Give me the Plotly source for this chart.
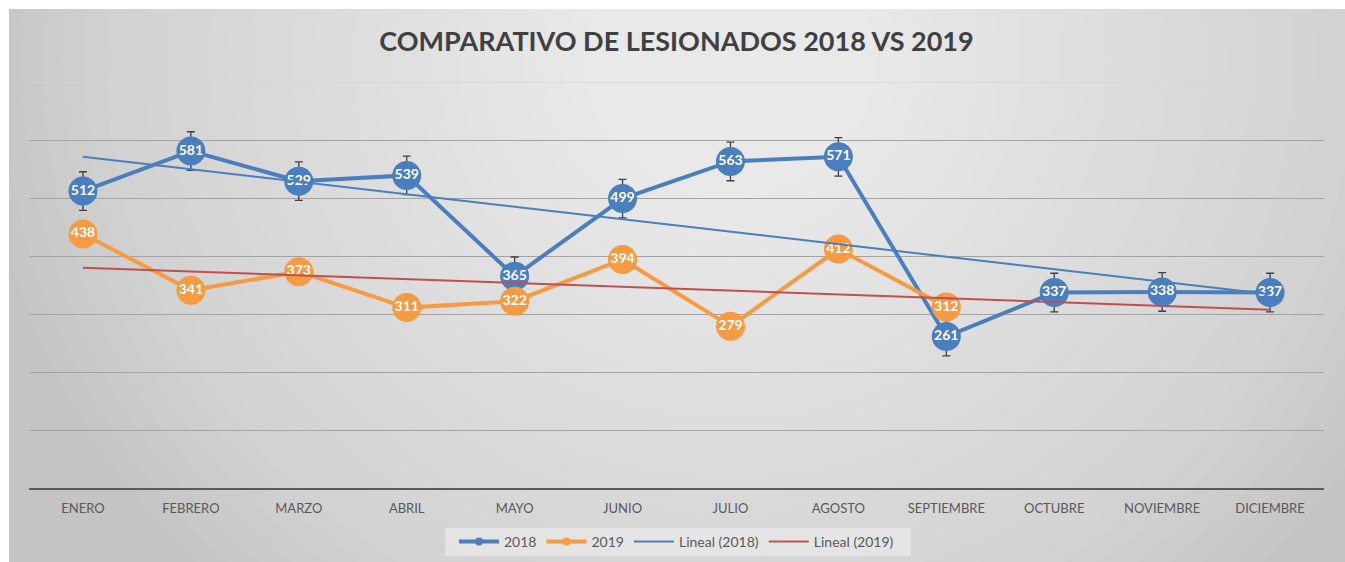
import numpy as np
import plotly.graph_objects as go

# Monthly injured counts
meses = ["ENERO", "FEBRERO", "MARZO", "ABRIL", "MAYO", "JUNIO", "JULIO",
         "AGOSTO", "SEPTIEMBRE", "OCTUBRE", "NOVIEMBRE", "DICIEMBRE"]
lesionados_2018 = [512, 581, 529, 539, 365, 499, 563, 571, 261, 337, 338, 337]
lesionados_2019 = [438, 341, 373, 311, 322, 394, 279, 412, 312, None, None, None]

AZUL = "#4a7ebf"
NARANJA = "#f79a42"
ROJO = "#c0504d"
FONT = "Lato"

W, H = 1345, 562
L, R, T, B = 29, 21, 82, 74          # plot-area margins in pixels
PW, PH = W - L - R, H - T - B


def px_to_paper(x, y):
    return (x - L) / PW, (H - B - y) / PH


def trend(values):
    """Least-squares linear trend over the month index, drawn across the whole year."""
    idx = np.array([i for i, v in enumerate(values) if v is not None], float)
    val = np.array([v for v in values if v is not None], float)
    m, b = np.polyfit(idx + 1, val, 1)
    ends = np.array([1, len(values)], float)
    return [meses[0], meses[-1]], list(m * ends + b)


v18 = np.array(lesionados_2018, float)
err_2018 = float(v18.std(ddof=1) / np.sqrt(len(v18)))

fig = go.Figure()

# Chart-area background with a soft radial highlight
shapes = []
x0, y0 = px_to_paper(9, 9)
x1, y1 = px_to_paper(W, H)
shapes.append(dict(type="rect", xref="paper", yref="paper", x0=x0, y0=y1, x1=x1, y1=y0,
                   fillcolor="#c4c4c4", line=dict(width=0), layer="below"))
cx, cy, rad = 730, 60, 750
n = 36
for i in range(n, 0, -1):
    r = rad * i / n
    a0, b0 = px_to_paper(cx - r, cy + r * 0.95)
    a1, b1 = px_to_paper(cx + r, cy - r * 0.95)
    shapes.append(dict(type="circle", xref="paper", yref="paper", x0=a0, y0=b0, x1=a1, y1=b1,
                       fillcolor="rgba(255,255,255,0.042)", line=dict(width=0), layer="below"))

# Legend box
lx0, ly0 = px_to_paper(445, 528)
lx1, ly1 = px_to_paper(911, 556)
shapes.append(dict(type="rect", xref="paper", yref="paper", x0=lx0, y0=ly1, x1=lx1, y1=ly0,
                   fillcolor="rgba(240,240,240,0.55)", line=dict(width=0), layer="below"))

# Faint top gridline
shapes.append(dict(type="line", xref="paper", yref="y", x0=0, x1=1, y0=700, y1=700,
                   line=dict(color="#d6d6d6", width=1.3), layer="below"))

# Series 2018 with standard-error bars
fig.add_trace(go.Scatter(
    x=meses, y=lesionados_2018, mode="lines+markers+text",
    line=dict(color=AZUL, width=4),
    marker=dict(size=29, color=AZUL),
    error_y=dict(type="constant", value=err_2018, color="#404040", thickness=1.3, width=4),
    text=[str(v) for v in lesionados_2018],
    textposition="middle center",
    textfont=dict(family=FONT, size=14, color="white", weight="bold"),
    showlegend=False, cliponaxis=False))

# Series 2019
fig.add_trace(go.Scatter(
    x=meses, y=lesionados_2019, mode="lines+markers+text",
    line=dict(color=NARANJA, width=4),
    marker=dict(size=29, color=NARANJA),
    text=[str(v) if v is not None else "" for v in lesionados_2019],
    textposition="middle center",
    textfont=dict(family=FONT, size=14, color="white", weight="bold"),
    showlegend=False, cliponaxis=False))

# Trend lines, drawn over the series
tx, ty = trend(lesionados_2018)
fig.add_trace(go.Scatter(x=tx, y=ty, mode="lines", line=dict(color=AZUL, width=2),
                         showlegend=False, hoverinfo="skip"))
tx2, ty2 = trend(lesionados_2019)
fig.add_trace(go.Scatter(x=tx2, y=ty2, mode="lines", line=dict(color=ROJO, width=2),
                         showlegend=False, hoverinfo="skip"))

# Legend entries
for name, color, mode, w in [("2018", AZUL, "lines+markers", 4),
                             ("2019", NARANJA, "lines+markers", 4),
                             ("Lineal (2018)", AZUL, "lines", 2),
                             ("Lineal (2019)", ROJO, "lines", 2)]:
    fig.add_trace(go.Scatter(x=[None], y=[None], mode=mode, name=name,
                             line=dict(color=color, width=w),
                             marker=dict(size=8, color=color)))

fig.update_layout(
    width=W, height=H,
    margin=dict(l=L, r=R, t=T, b=B, autoexpand=False),
    paper_bgcolor="white",
    plot_bgcolor="rgba(0,0,0,0)",
    shapes=shapes,
    title=dict(text="COMPARATIVO DE LESIONADOS 2018 VS 2019",
               x=0.5, xref="paper", y=1 - 42 / H, yanchor="middle",
               font=dict(family=FONT, size=27, color="#404040", weight="bold")),
    legend=dict(orientation="h", x=0.5, xanchor="center", yref="container",
                y=1 - 542 / H, yanchor="middle", bgcolor="rgba(0,0,0,0)",
                font=dict(family=FONT, size=14, color="#595959"),
                itemwidth=40, tracegroupgap=0),
    xaxis=dict(type="category", categoryorder="array", categoryarray=meses,
               range=[-0.5, 11.5], showgrid=False, showline=True,
               linecolor="#595959", linewidth=2, ticks="", ticklabelstandoff=7,
               tickfont=dict(family=FONT, size=13, color="#595959")),
    yaxis=dict(range=[0, 700], dtick=100, showticklabels=False, showgrid=True,
               gridcolor="#a3a3a3", gridwidth=1.3, zeroline=False, showline=False),
)

fig.write_html("out.html")
